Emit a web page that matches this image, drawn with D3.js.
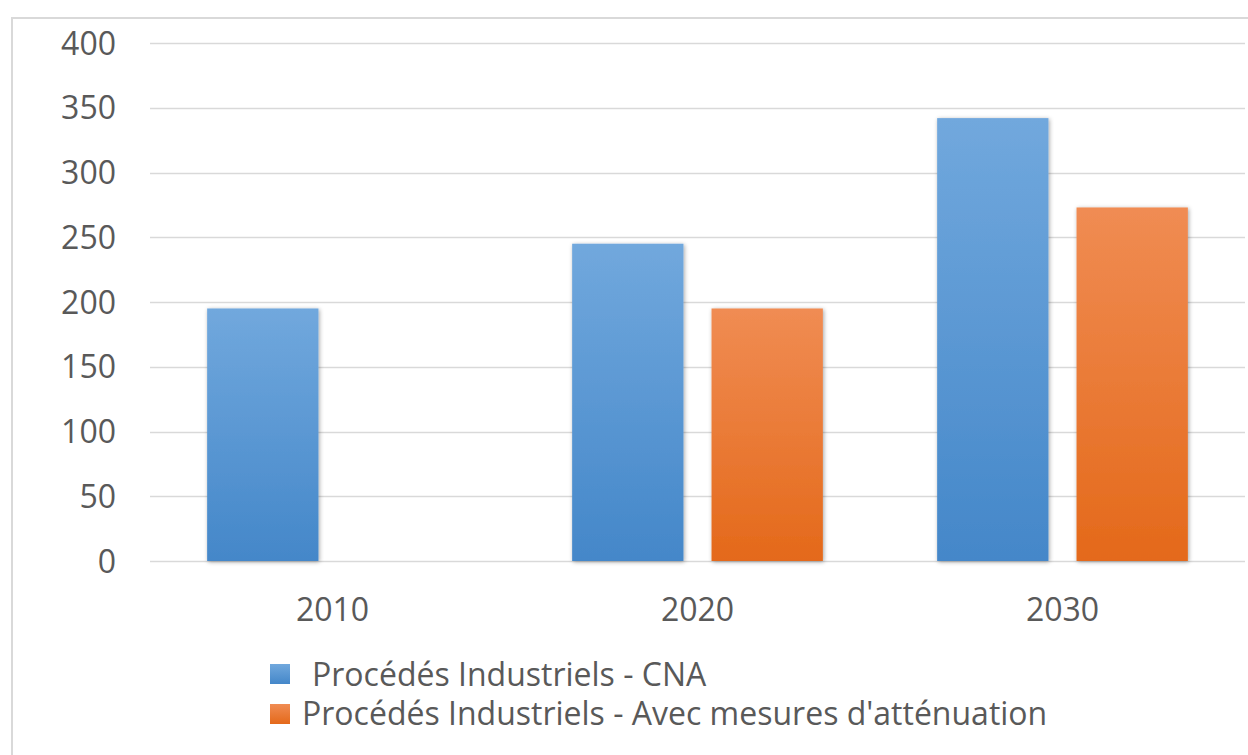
<!DOCTYPE html>
<html>
<head>
<meta charset="utf-8">
<script src="https://cdn.jsdelivr.net/npm/d3@7"></script>
<style>
  html, body { margin: 0; padding: 0; background: #fff; }
  svg { display: block; }
  text { font-family: "Open Sans", "DejaVu Sans", sans-serif; fill: #595959; }
</style>
</head>
<body>
<svg id="chart" width="1248" height="755"></svg>
<script>
// Data
const categories = ["2010", "2020", "2030"];
const seriesNames = ["Procédés Industriels - CNA", "Procédés Industriels - Avec mesures d'atténuation"];
const cnaValues = [195, 245, 342];
const attenuationValues = [null, 195, 273];
const yTicks = [0, 50, 100, 150, 200, 250, 300, 350, 400];

const svg = d3.select("#chart");
const W = 1248, H = 755;

// Layout
const plot = { left: 150, right: 1245, top: 43, bottom: 561 };

// Frame
svg.append("path")
  .attr("d", `M12,${H} L12,18 L${W},18`)
  .attr("fill", "none")
  .attr("stroke", "#d9d9d9")
  .attr("stroke-width", 2);

const defs = svg.append("defs");
const gradStops = [
  { id: "gradBlue", top: "#71a8dd", bottom: "#4487c9" },
  { id: "gradOrange", top: "#f08c53", bottom: "#e4691a" }
];
gradStops.forEach(g => {
  const lg = defs.append("linearGradient").attr("id", g.id)
    .attr("x1", 0).attr("y1", 0).attr("x2", 0).attr("y2", 1);
  lg.append("stop").attr("offset", "0%").attr("stop-color", g.top);
  lg.append("stop").attr("offset", "100%").attr("stop-color", g.bottom);
});
const shadow = defs.append("filter").attr("id", "barShadow")
  .attr("x", "-20%").attr("y", "-10%").attr("width", "140%").attr("height", "120%");
shadow.append("feDropShadow")
  .attr("dx", 1).attr("dy", 1).attr("stdDeviation", 2.2)
  .attr("flood-color", "#000").attr("flood-opacity", 0.35);

// Scales
const y = d3.scaleLinear().domain([0, 400]).range([plot.bottom, plot.top]);
const x0 = d3.scaleBand().domain(categories).range([plot.left, plot.right]);
const x1 = d3.scaleBand().domain([0, 1]).range([0, x0.bandwidth()])
  .paddingInner(0.2014).paddingOuter(0.41);

// Gridlines
svg.append("g").selectAll("line").data(yTicks).join("line")
  .attr("x1", plot.left).attr("x2", plot.right)
  .attr("y1", d => Math.round(y(d)) + 0.5).attr("y2", d => Math.round(y(d)) + 0.5)
  .attr("stroke", "#d9d9d9").attr("stroke-width", 1.5);

// Y axis labels
const yAxis = d3.axisLeft(y).tickValues(yTicks).tickSize(0).tickPadding(0);
const yg = svg.append("g").attr("transform", `translate(116,0)`).call(yAxis);
yg.select(".domain").remove();
yg.selectAll("text")
  .attr("font-size", 32).attr("dy", "0.35em")
  .style("font-family", "'Open Sans', 'DejaVu Sans', sans-serif").attr("fill", "#595959");

// Bars
const seriesData = [cnaValues, attenuationValues];
const fills = ["url(#gradBlue)", "url(#gradOrange)"];
seriesData.forEach((vals, si) => {
  svg.append("g").selectAll("rect")
    .data(categories.map((c, i) => ({ c, v: vals[i] })).filter(d => d.v != null))
    .join("rect")
    .attr("x", d => x0(d.c) + x1(si))
    .attr("width", x1.bandwidth())
    .attr("y", d => y(d.v))
    .attr("height", d => y(0) - y(d.v))
    .attr("fill", fills[si])
    .attr("filter", "url(#barShadow)");
});

// X axis labels
const xAxis = d3.axisBottom(x0).tickSize(0).tickPadding(0);
const xg = svg.append("g").attr("transform", `translate(0,${plot.bottom})`).call(xAxis);
xg.select(".domain").remove();
xg.selectAll("text")
  .attr("y", 60).attr("dy", 0)
  .attr("font-size", 32)
  .style("font-family", "'Open Sans', 'DejaVu Sans', sans-serif").attr("fill", "#595959");

// Legend
const legendRows = [
  { name: seriesNames[0], fill: fills[0], sq: 664, textX: 312, base: 686 },
  { name: seriesNames[1], fill: fills[1], sq: 704, textX: 302, base: 725 }
];
const lg = svg.append("g");
legendRows.forEach(r => {
  lg.append("rect").attr("x", 270).attr("y", r.sq).attr("width", 20).attr("height", 20).attr("fill", r.fill);
  lg.append("text").attr("x", r.textX).attr("y", r.base).attr("font-size", 32).text(r.name);
});
</script>
</body>
</html>
